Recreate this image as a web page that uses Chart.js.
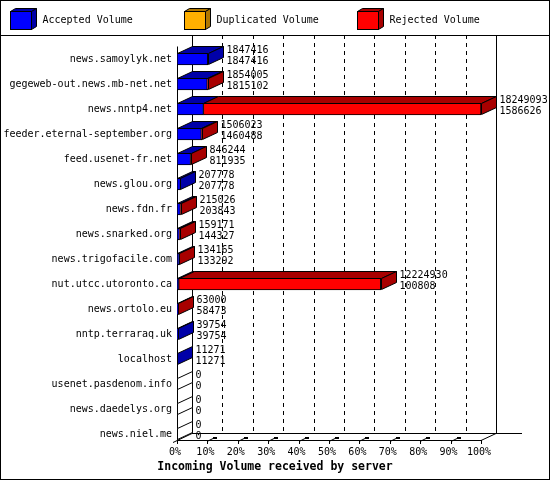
<!DOCTYPE html>
<html lang="en">

<head>
    <meta charset="UTF-8">
    <title>Incoming Volume received by server</title>
    <script src="https://cdn.jsdelivr.net/npm/chart.js@4.4.0/dist/chart.umd.min.js"></script>
    <style>
        html, body { margin: 0; padding: 0; background: #fff; }
        #wrap { width: 550px; height: 480px; position: relative; }
    </style>
</head>

<body>
    <div id="wrap"><canvas id="feedChart"></canvas></div>
    <script>
        // Servers feeding us, top to bottom
        const hosts = [
            'news.samoylyk.net', 'gegeweb-out.news.mb-net.net', 'news.nntp4.net',
            'feeder.eternal-september.org', 'feed.usenet-fr.net', 'news.glou.org',
            'news.fdn.fr', 'news.snarked.org', 'news.trigofacile.com',
            'nut.utcc.utoronto.ca', 'news.ortolo.eu', 'nntp.terraraq.uk',
            'localhost', 'usenet.pasdenom.info', 'news.daedelys.org', 'news.niel.me'
        ];

        // Volumes (bytes) as printed next to each bar
        const offered = [1847416, 1854005, 18249093, 1506023, 846244, 207778, 215026, 159171,
            134165, 12224930, 63000, 39754, 11271, 0, 0, 0];
        const accepted = [1847416, 1815102, 1586626, 1460488, 811935, 207778, 203843, 144327,
            133292, 100808, 58473, 39754, 11271, 0, 0, 0];
        const duplicated = [0, 0, 0, 0, 0, 0, 0, 0, 0, 0, 0, 0, 0, 0, 0, 0];
        const rejected = [0, 38903, 16662467, 45535, 34309, 0, 11183, 14844,
            873, 12124122, 4527, 0, 0, 0, 0, 0];

        const percentTicks = ['0%', '10%', '20%', '30%', '40%', '50%', '60%', '70%', '80%', '90%', '100%'];

        const frontColors = ['#0000ff', '#ffb000', '#ff0000'];
        const sideColors = ['#0000a8', '#b07800', '#a80000'];

        const mono = 'DejaVu Sans Mono';
        const depthX = 15;
        const depthY = 7;
        const scaleMax = Math.max(...offered);

        function seg(ctx, x1, y1, x2, y2) {
            ctx.beginPath();
            ctx.moveTo(x1, y1);
            ctx.lineTo(x2, y2);
            ctx.stroke();
        }

        function poly(ctx, pts, fill) {
            ctx.beginPath();
            ctx.moveTo(pts[0][0], pts[0][1]);
            for (let k = 1; k < pts.length; k++) ctx.lineTo(pts[k][0], pts[k][1]);
            ctx.closePath();
            ctx.fillStyle = fill;
            ctx.fill();
            ctx.stroke();
        }

        // GD style 3d box look: back wall, floor, top/side faces, value labels, legend
        const cube3d = {
            id: 'cube3d',
            beforeDatasetsDraw(chart) {
                const { ctx, chartArea } = chart;
                const x = chart.scales.x;
                const left = Math.round(chartArea.left);
                const right = Math.round(chartArea.right);
                const front = Math.round(chartArea.bottom - 6.5);
                const back = front - depthY;
                const top = 35;
                ctx.save();
                ctx.strokeStyle = '#000';
                ctx.lineWidth = 1;

                ctx.setLineDash([4, 4]);
                x.ticks.forEach((t, i) => {
                    if (i === 0 || i === x.ticks.length - 1) return;
                    const px = Math.round(x.getPixelForValue(t.value)) + depthX + 0.5;
                    seg(ctx, px, top, px, back);
                });
                ctx.setLineDash([]);

                seg(ctx, left + depthX + 0.5, top, left + depthX + 0.5, back);
                seg(ctx, right + depthX + 0.5, top, right + depthX + 0.5, back);
                seg(ctx, left + depthX, back + 0.5, right + depthX + 26, back + 0.5);
                seg(ctx, left, front + 0.5, right, front + 0.5);
                seg(ctx, right, front + 0.5, right + depthX, back + 0.5);
                seg(ctx, left - 4, front + 2.5, left + depthX, back + 0.5);
                seg(ctx, left + 0.5, chartArea.top, left + 0.5, front);

                // floor ticks
                x.ticks.forEach((t, i) => {
                    const px = Math.round(x.getPixelForValue(t.value));
                    seg(ctx, px + 0.5, front, px + 0.5, front + 4);
                    if (i > 0 && i < x.ticks.length - 1) {
                        seg(ctx, px, front + 1.5, px + 6, front - 1.5);
                        ctx.fillStyle = '#000';
                        ctx.fillRect(px + 6, front - 3, 4, 2);
                    }
                });
                ctx.restore();
            },
            afterDatasetsDraw(chart) {
                const { ctx } = chart;
                const metas = chart.data.datasets.map((d, i) => chart.getDatasetMeta(i));
                ctx.save();
                ctx.strokeStyle = '#000';
                ctx.lineWidth = 1;
                ctx.font = '10px "' + mono + '"';
                ctx.textBaseline = 'middle';
                ctx.textAlign = 'left';

                hosts.forEach((h, j) => {
                    const first = metas[0].data[j];
                    const ft = Math.round(first.y - first.height / 2) + 0.5;
                    const fb = Math.round(first.y + first.height / 2) - 0.5;
                    let endX = Math.round(first.base) + 0.5;
                    let lastIdx = -1;
                    metas.forEach((m, i) => {
                        const el = m.data[j];
                        const xs = Math.round(Math.min(el.base, el.x)) + 0.5;
                        const xe = Math.round(Math.max(el.base, el.x)) + 0.5;
                        if (chart.data.datasets[i].data[j] > 0) {
                            lastIdx = i;
                            endX = Math.max(endX, xe);
                            if (xe > xs) {
                                poly(ctx, [[xs, ft], [xs + depthX, ft - depthY],
                                    [xe + depthX, ft - depthY], [xe, ft]], sideColors[i]);
                            }
                        }
                    });
                    poly(ctx, [[endX, ft], [endX + depthX, ft - depthY],
                        [endX + depthX, fb - depthY], [endX, fb]],
                        lastIdx >= 0 ? sideColors[lastIdx] : '#fff');

                    ctx.fillStyle = '#000';
                    const tx = endX + depthX + 3;
                    ctx.fillText(String(offered[j]), tx, first.y - 9);
                    ctx.fillText(String(accepted[j]), tx, first.y + 2);
                });
                ctx.restore();
            },
            afterDraw(chart) {
                const { ctx, width, height } = chart;
                ctx.save();
                ctx.strokeStyle = '#000';
                ctx.lineWidth = 1;
                ctx.font = '10px "' + mono + '"';
                ctx.textBaseline = 'middle';
                ctx.textAlign = 'left';
                chart.data.datasets.forEach((d, i) => {
                    const bx = Math.round(10 + i * 173.5) + 0.5;
                    ctx.fillStyle = frontColors[i];
                    ctx.fillRect(bx, 11.5, 21, 18);
                    ctx.strokeRect(bx, 11.5, 21, 18);
                    poly(ctx, [[bx, 11.5], [bx + 5, 8.5], [bx + 26, 8.5], [bx + 21, 11.5]], sideColors[i]);
                    poly(ctx, [[bx + 21, 11.5], [bx + 26, 8.5], [bx + 26, 26.5], [bx + 21, 29.5]], sideColors[i]);
                    ctx.fillStyle = '#000';
                    ctx.fillText(d.label, bx + 32, 20.5);
                });
                seg(ctx, 0, 35.5, width, 35.5);
                ctx.strokeRect(0.5, 0.5, width - 1, height - 1);
                ctx.restore();
            }
        };

        const tickFont = { family: mono, size: 10 };

        const config = {
            type: 'bar',
            data: {
                labels: hosts,
                datasets: [
                    { label: 'Accepted Volume', data: accepted },
                    { label: 'Duplicated Volume', data: duplicated },
                    { label: 'Rejected Volume', data: rejected }
                ].map((d, i) => Object.assign(d, {
                    backgroundColor: frontColors[i],
                    borderColor: '#000',
                    borderWidth: 1,
                    borderSkipped: false,
                    barThickness: 12,
                    xAxisID: 'x',
                    yAxisID: 'y'
                }))
            },
            options: {
                indexAxis: 'y',
                responsive: true,
                maintainAspectRatio: false,
                animation: false,
                layout: { padding: { top: 46.5, left: 0, right: 0, bottom: 0 } },
                scales: {
                    x: {
                        stacked: true,
                        min: 0,
                        max: scaleMax,
                        grid: { display: false, drawTicks: false },
                        border: { display: false },
                        afterBuildTicks: s => {
                            s.ticks = percentTicks.map((p, i) => ({ value: scaleMax * i / 10 }));
                        },
                        ticks: {
                            callback: (v, i) => percentTicks[i],
                            color: '#000',
                            padding: 0,
                            labelOffset: -2,
                            maxRotation: 0,
                            autoSkip: false,
                            font: tickFont
                        },
                        afterFit: s => { s.height = 12; }
                    },
                    y: {
                        stacked: true,
                        grid: { display: false, drawTicks: false },
                        border: { display: false },
                        ticks: { color: '#000', padding: 5, autoSkip: false, font: tickFont },
                        afterFit: s => { s.width = 177; }
                    },
                    side: {
                        type: 'category',
                        position: 'right',
                        grid: { display: false, drawTicks: false },
                        border: { display: false },
                        ticks: { display: false },
                        afterFit: s => { s.width = 69; }
                    }
                },
                plugins: {
                    legend: { display: false },
                    tooltip: { enabled: false },
                    title: {
                        display: true,
                        position: 'bottom',
                        text: 'Incoming Volume received by server',
                        color: '#000',
                        font: { family: mono, size: 11.5, weight: 'bold' },
                        padding: { top: 2, bottom: 5.7 }
                    }
                }
            },
            plugins: [cube3d]
        };

        const feedChart = new Chart(document.getElementById('feedChart'), config);
    </script>
</body>

</html>
